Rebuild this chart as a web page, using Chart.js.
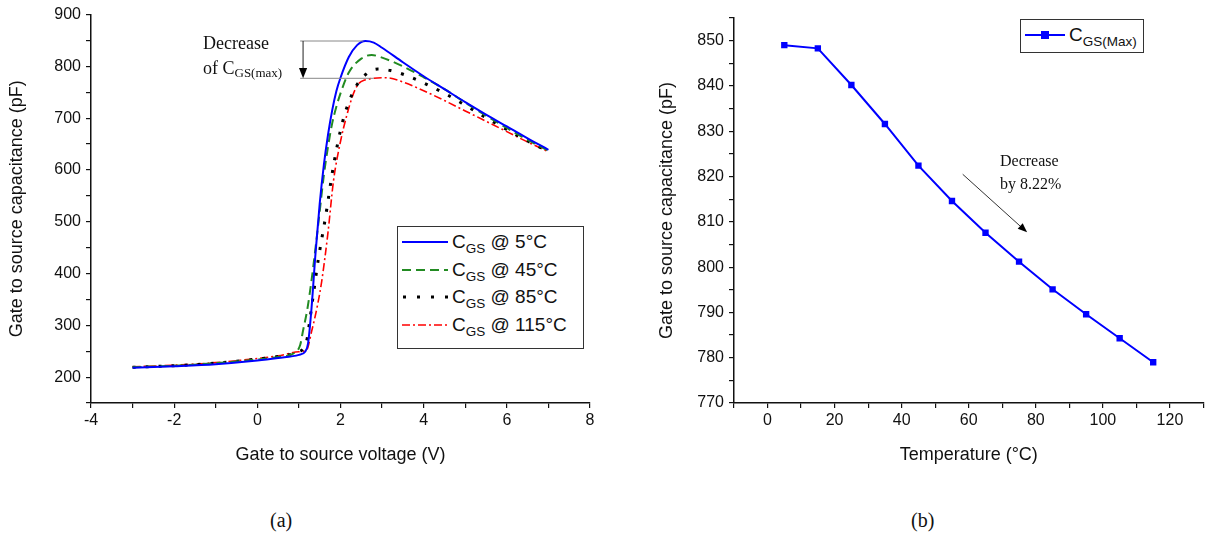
<!DOCTYPE html>
<html>
<head>
<meta charset="utf-8">
<script src="https://cdn.jsdelivr.net/npm/chart.js@4.4.1/dist/chart.umd.min.js"></script>
<style>
  html,body{margin:0;padding:0;background:#fff;}
  body{width:1208px;height:543px;position:relative;overflow:hidden;font-family:"Liberation Sans",Arial,sans-serif;}
  .abs{position:absolute;white-space:nowrap;}
  .serif{font-family:"Liberation Serif","Times New Roman",serif;color:#111;}
  .leg{position:absolute;border:1.5px solid #333;background:#fff;box-sizing:border-box;}
  .row{position:absolute;left:0;height:26px;display:flex;align-items:center;font-size:19px;color:#111;white-space:nowrap;}
  .row svg{margin-left:4px;margin-right:4px;flex:none;}
  .sub{font-size:13.5px;position:relative;top:5px;}
</style>
</head>
<body>
<canvas id="ca" width="600" height="470" style="position:absolute;left:0;top:0;"></canvas>
<canvas id="cb" width="558" height="470" style="position:absolute;left:650px;top:0;"></canvas>

<!-- legend (a) -->
<div class="leg" style="left:397px;top:226px;width:187px;height:123px;">
  <div class="row" style="top:2px;"><svg width="46" height="6"><line x1="0" y1="3" x2="46" y2="3" stroke="#0000ff" stroke-width="2"/></svg><span>C<span class="sub">GS</span> @ 5°C</span></div>
  <div class="row" style="top:30px;"><svg width="46" height="6"><line x1="0" y1="3" x2="46" y2="3" stroke="#228b22" stroke-width="2" stroke-dasharray="9,5"/></svg><span>C<span class="sub">GS</span> @ 45°C</span></div>
  <div class="row" style="top:57px;"><svg width="46" height="6"><line x1="1" y1="3" x2="46" y2="3" stroke="#000" stroke-width="3" stroke-dasharray="3,11"/></svg><span>C<span class="sub">GS</span> @ 85°C</span></div>
  <div class="row" style="top:85px;"><svg width="46" height="6"><line x1="0" y1="3" x2="46" y2="3" stroke="#ff0000" stroke-width="1.6" stroke-dasharray="8,3,2,3"/></svg><span>C<span class="sub">GS</span> @ 115°C</span></div>
</div>

<!-- legend (b) -->
<div class="leg" style="left:1020px;top:19px;width:124px;height:34px;border-width:1px;">
  <div class="row" style="top:2px;"><svg width="40" height="10"><line x1="0" y1="5" x2="40" y2="5" stroke="#0000ff" stroke-width="2"/><rect x="16" y="1" width="8" height="8" fill="#0000ff"/></svg><span>C<span class="sub">GS(Max)</span></span></div>
</div>

<!-- annotation (a) -->
<div class="abs serif" style="left:203px;top:33px;font-size:18px;">Decrease</div>
<div class="abs serif" style="left:203px;top:58px;font-size:18px;">of C<span style="font-size:13px;position:relative;top:3px;">GS(max)</span></div>

<!-- annotation (b) -->
<div class="abs serif" style="left:1000px;top:152px;font-size:16px;">Decrease</div>
<div class="abs serif" style="left:1000px;top:175px;font-size:16px;">by 8.22%</div>

<!-- captions -->
<div class="abs serif" style="left:270px;top:509px;font-size:20px;">(a)</div>
<div class="abs serif" style="left:911px;top:509px;font-size:20px;">(b)</div>

<script>
// ---------- data (a) ----------
const v5   = [-3,-2,-1,0,0.5,1.0,1.15,1.22,1.3,1.4,1.5,1.6,1.7,1.8,1.9,2.0,2.2,2.4,2.6,2.8,3.0,3.5,4.0,4.5,5.0,5.5,6.0,6.5,7.0];
const c5   = [218,221,225,232,237,243,249,265,330,440,535,610,668,715,752,778,818,841,849,846,836,808,781,756,731,707,684,661,639];
const v45  = [-3,-2,-1,0,0.5,0.9,1.03,1.1,1.2,1.3,1.4,1.5,1.6,1.7,1.8,1.9,2.0,2.2,2.5,2.75,3.0,3.5,4.0,4.5,5.0,5.5,6.0,6.5,7.0];
const c45  = [219,222,227,234,239,247,262,290,330,385,450,520,590,645,690,722,748,788,815,822,817,800,779,756,730,705,681,658,637];
const v85  = [-3,-2,-1,0,0.5,1.0,1.1,1.2,1.26,1.35,1.46,1.65,1.82,2.05,2.3,2.6,2.9,3.2,3.6,4.0,4.5,5.0,5.5,6.0,6.5,7.0];
const c85  = [219,222,227,235,240,249,255,275,309,361,424,514,603,693,750,784,795,792,782,768,748,725,701,678,656,636];
const v115 = [-3,-2,-1,0,0.5,1.0,1.18,1.31,1.45,1.55,1.7,1.83,2.0,2.15,2.3,2.43,2.6,2.8,3.1,3.5,4.0,4.5,5.0,5.5,6.0,6.5,7.0];
const c115 = [220,223,228,236,241,249,252,290,340,386,480,578,655,705,745,766,774,777,778,770,753,734,714,694,674,654,635];

// ---------- data (b) ----------
const temps  = [5,15,25,35,45,55,65,75,85,95,105,115];
const cgsMax = [849,848.3,840.2,831.6,822.4,814.6,807.6,801.2,795.1,789.6,784.3,779];

// ---------- labels ----------
const xTitleA = 'Gate to source voltage (V)';
const yTitle  = 'Gate to source capacitance (pF)';
const xTitleB = 'Temperature (°C)';

const zip = (xs, ys) => xs.map((x, i) => ({x, y: ys[i]}));
const FONT = '"Liberation Sans", Arial, sans-serif';

function axisCommon(extra) {
  return Object.assign({
    type: 'linear',
    border: {display: true, color: '#111', width: 1.5},
    grid: {display: true, drawOnChartArea: false, drawTicks: true, tickLength: 5, color: '#111', lineWidth: 1.2},
  }, extra);
}

function arrowHead(ctx, x1, y1, x2, y2, size) {
  const a = Math.atan2(y2 - y1, x2 - x1);
  ctx.beginPath();
  ctx.moveTo(x2, y2);
  ctx.lineTo(x2 - size * Math.cos(a - 0.38), y2 - size * Math.sin(a - 0.38));
  ctx.lineTo(x2 - size * Math.cos(a + 0.38), y2 - size * Math.sin(a + 0.38));
  ctx.closePath();
  ctx.fill();
}

const annA = {
  id: 'annA',
  afterDatasetsDraw(chart) {
    const {ctx, scales: {x, y}} = chart;
    ctx.save();
    ctx.strokeStyle = '#888';
    ctx.lineWidth = 1;
    const yTop = y.getPixelForValue(849), yBot = y.getPixelForValue(777);
    ctx.beginPath();
    ctx.moveTo(x.getPixelForValue(1.03), yTop); ctx.lineTo(x.getPixelForValue(2.55), yTop);
    ctx.moveTo(x.getPixelForValue(1.03), yBot); ctx.lineTo(x.getPixelForValue(2.8), yBot);
    ctx.stroke();
    const ax = x.getPixelForValue(1.1);
    ctx.strokeStyle = '#222';
    ctx.beginPath(); ctx.moveTo(ax, yTop); ctx.lineTo(ax, yBot - 6); ctx.stroke();
    ctx.fillStyle = '#000';
    arrowHead(ctx, ax, yTop, ax, yBot, 11);
    ctx.restore();
  }
};

const annB = {
  id: 'annB',
  afterDatasetsDraw(chart) {
    const {ctx, scales: {x, y}} = chart;
    ctx.save();
    const x1 = x.getPixelForValue(58.2), y1 = y.getPixelForValue(820.5);
    const x2 = x.getPixelForValue(77.4), y2 = y.getPixelForValue(807.7);
    ctx.strokeStyle = '#333'; ctx.lineWidth = 1;
    ctx.beginPath(); ctx.moveTo(x1, y1); ctx.lineTo(x2 - 4, y2 - 3.5); ctx.stroke();
    ctx.fillStyle = '#000';
    arrowHead(ctx, x1, y1, x2, y2, 10);
    ctx.restore();
  }
};

new Chart(document.getElementById('ca'), {
  type: 'line',
  data: {
    datasets: [
      {label: 'CGS @ 5°C',   data: zip(v5, c5),     borderColor: '#0000ff', borderWidth: 2,   pointRadius: 0, cubicInterpolationMode: 'monotone'},
      {label: 'CGS @ 45°C',  data: zip(v45, c45),   borderColor: '#228b22', borderWidth: 2,   borderDash: [9, 5], pointRadius: 0, cubicInterpolationMode: 'monotone'},
      {label: 'CGS @ 85°C',  data: zip(v85, c85),   borderColor: '#000000', borderWidth: 3,   borderDash: [3, 10], pointRadius: 0, cubicInterpolationMode: 'monotone'},
      {label: 'CGS @ 115°C', data: zip(v115, c115), borderColor: '#ff0000', borderWidth: 1.6, borderDash: [8, 3, 2, 3], pointRadius: 0, cubicInterpolationMode: 'monotone'}
    ]
  },
  options: {
    responsive: false, animation: false, parsing: false,
    layout: {padding: {top: 12, right: 10, left: 0, bottom: 0}},
    plugins: {legend: {display: false}, tooltip: {enabled: false}},
    scales: {
      x: axisCommon({
        min: -4, max: 8,
        ticks: {stepSize: 1, autoSkip: false, maxRotation: 0, padding: 3, color: '#111', font: {family: FONT, size: 16},
                callback: v => (v % 2 === 0 ? String(v) : '')},
        title: {display: true, text: xTitleA, color: '#111', font: {family: FONT, size: 18}, padding: {top: 4, bottom: 4}},
        afterFit: s => { s.height = 67; }
      }),
      y: axisCommon({
        min: 150, max: 900,
        ticks: {stepSize: 50, autoSkip: false, padding: 5, color: '#111', font: {family: FONT, size: 16},
                callback: v => (v % 100 === 0 ? String(v) : '')},
        title: {display: true, text: yTitle, color: '#111', font: {family: FONT, size: 18}, padding: {top: 6, bottom: 0}},
        afterFit: s => { s.width = 91; }
      })
    }
  },
  plugins: [annA]
});

new Chart(document.getElementById('cb'), {
  type: 'line',
  data: {
    datasets: [
      {label: 'CGS(Max)', data: zip(temps, cgsMax), borderColor: '#0000ff', backgroundColor: '#0000ff', borderWidth: 2,
       pointStyle: 'rect', pointRadius: 4.5, pointBorderWidth: 0, tension: 0}
    ]
  },
  options: {
    responsive: false, animation: false, parsing: false,
    layout: {padding: {top: 18, right: 0, left: 0, bottom: 0}},
    plugins: {legend: {display: false}, tooltip: {enabled: false}},
    scales: {
      x: axisCommon({
        min: -10, max: 130,
        ticks: {stepSize: 10, autoSkip: false, maxRotation: 0, padding: 3, color: '#111', font: {family: FONT, size: 16},
                callback: v => (v % 20 === 0 && v >= 0 && v <= 120 ? String(v) : '')},
        title: {display: true, text: xTitleB, color: '#111', font: {family: FONT, size: 18}, padding: {top: 4, bottom: 4}},
        afterFit: s => { s.height = 67; }
      }),
      y: axisCommon({
        min: 770, max: 855,
        ticks: {stepSize: 5, autoSkip: false, padding: 5, color: '#111', font: {family: FONT, size: 16},
                callback: v => (v % 10 === 0 ? String(v) : '')},
        title: {display: true, text: yTitle, color: '#111', font: {family: FONT, size: 18}, padding: {top: 6, bottom: 0}},
        afterFit: s => { s.width = 84; }
      })
    }
  },
  plugins: [annB]
});
</script>
</body>
</html>
